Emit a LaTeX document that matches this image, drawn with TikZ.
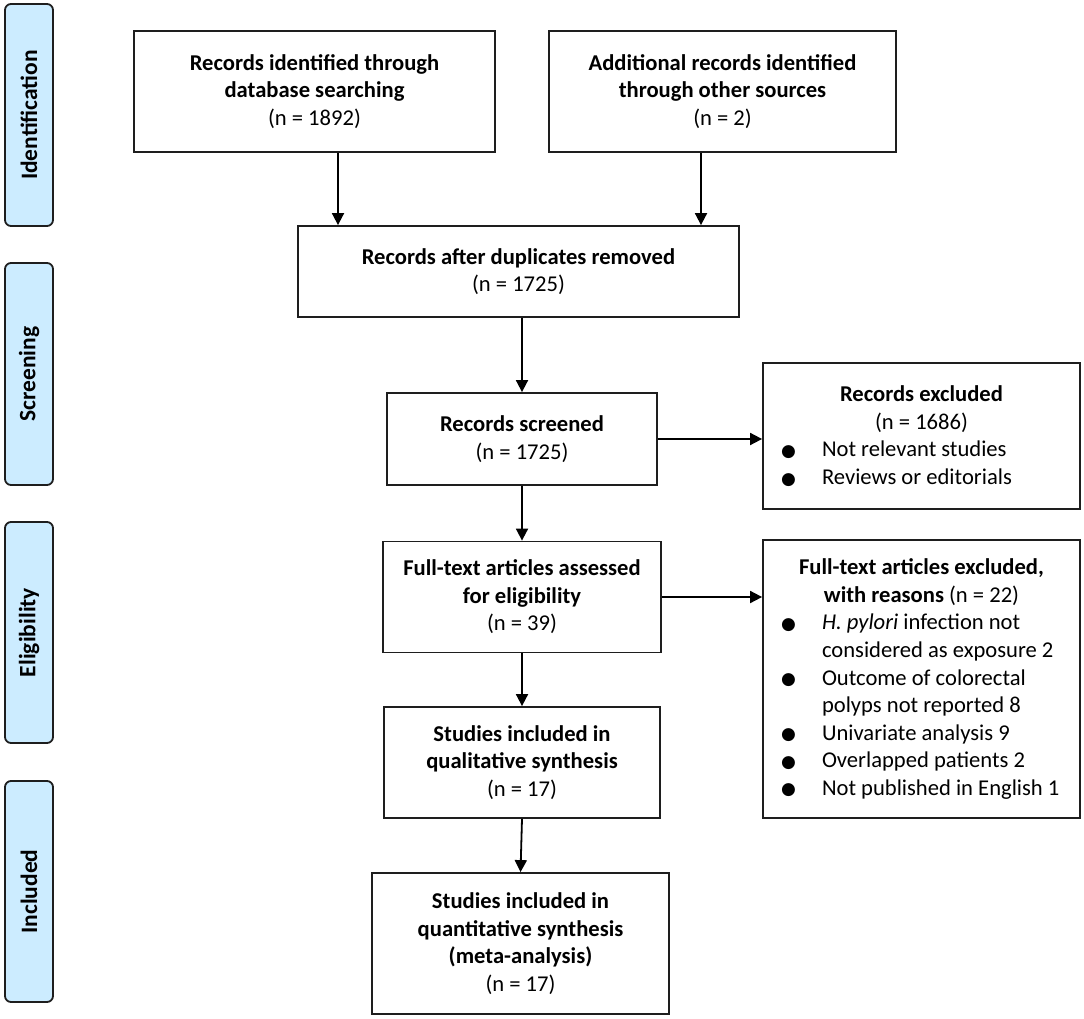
\documentclass[tikz,border=0pt]{standalone}
\usepackage{fontspec}
\setmainfont{Carlito}
\newfontfamily\symfont{DejaVu Sans}
\usetikzlibrary{arrows.meta}
\definecolor{sidefill}{RGB}{204,236,255}
\definecolor{edge}{RGB}{30,30,30}
\newcommand{\bul}{\hspace{18pt}\makebox[41pt][l]{\raisebox{0.5pt}{\symfont\fontsize{17}{17}\selectfont ●}}}
\newcommand{\bitem}[1]{\makebox[317pt][l]{\bul #1}}
\newcommand{\bcont}[1]{\makebox[317pt][l]{\hspace{59pt}#1}}
\begin{document}
\begin{tikzpicture}[x=1pt,y=-1pt,
  box/.style={draw=edge, line width=1.8pt, fill=white, align=center, inner sep=0pt,
    font=\fontsize{22.6}{27.6}\selectfont},
  listbox/.style={box, minimum width=317pt, minimum height=#1},
  side/.style={draw=edge, line width=1.8pt, fill=sidefill, rounded corners=6pt,
    rotate=90, minimum height=48pt, inner sep=0pt,
    font=\fontsize{23.5}{27}\selectfont\bfseries},
  arr/.style={line width=1.8pt, draw=black, -{Triangle[length=12pt,width=12pt]}}]
\useasboundingbox (0,0) rectangle (1084,1019);

% side labels
\node[side, minimum width=222pt] (ident) at (29,115) {Identification};
\node[side, minimum width=222pt] (screen) at (29,374) {Screening};
\node[side, minimum width=221pt] (elig) at (29,632.5) {Eligibility};
\node[side, minimum width=221pt] (incl) at (29,891.5) {Included};

% main boxes
\node[box, minimum width=361pt, minimum height=121pt] (db) at (314.5,91.5)
  {\textbf{Records identified through}\\\textbf{database searching}\\(n = 1892)};
\node[box, minimum width=347pt, minimum height=121pt] (add) at (722.5,91.5)
  {\textbf{Additional records identified}\\\textbf{through other sources}\\(n = 2)};
\node[box, minimum width=441pt, minimum height=91pt] (dup) at (518.5,271.5)
  {\textbf{Records after duplicates removed}\\(n = 1725)};
\node[box, minimum width=270pt, minimum height=92pt] (scr) at (522,439)
  {\textbf{Records screened}\\(n = 1725)};
\node[box, minimum width=278pt, minimum height=111pt] (full) at (522,597)
  {\textbf{Full-text articles assessed}\\\textbf{for eligibility}\\(n = 39)};
\node[box, minimum width=276pt, minimum height=111pt] (qual) at (522,762.5)
  {\textbf{Studies included in}\\\textbf{qualitative synthesis}\\(n = 17)};
\node[box, minimum width=297pt, minimum height=141pt] (quant) at (520.5,943.5)
  {\textbf{Studies included in}\\\textbf{quantitative synthesis}\\\textbf{(meta-analysis)}\\(n = 17)};

% exclusion boxes
\node[listbox=146pt] (excl1) at (921.5,436)
  {\textbf{Records excluded}\\(n = 1686)\\
   \bitem{Not relevant studies}\\
   \bitem{Reviews or editorials}};
\node[listbox=278pt] (excl2) at (921.5,679)
  {\textbf{Full-text articles excluded,}\\\textbf{with reasons} (n = 22)\\
   \bitem{\textit{H. pylori} infection not}\\
   \bcont{considered as exposure 2}\\
   \bitem{Outcome of colorectal}\\
   \bcont{polyps not reported 8}\\
   \bitem{Univariate analysis 9}\\
   \bitem{Overlapped patients 2}\\
   \bitem{Not published in English 1}};

% connectors
\draw[arr] (db.south -| 338,0) -- (dup.north -| 338,0);
\draw[arr] (add.south -| 701,0) -- (dup.north -| 701,0);
\draw[arr] (dup.south -| scr.north) -- (scr.north);
\draw[arr] (scr.south) -- (full.north);
\draw[arr] (full.south) -- (qual.north);
\draw[arr] (qual.south) -- (quant.north);
\draw[arr] (scr.east) -- (scr.east -| excl1.west);
\draw[arr] (full.east) -- (full.east -| excl2.west);
\end{tikzpicture}
\end{document}
